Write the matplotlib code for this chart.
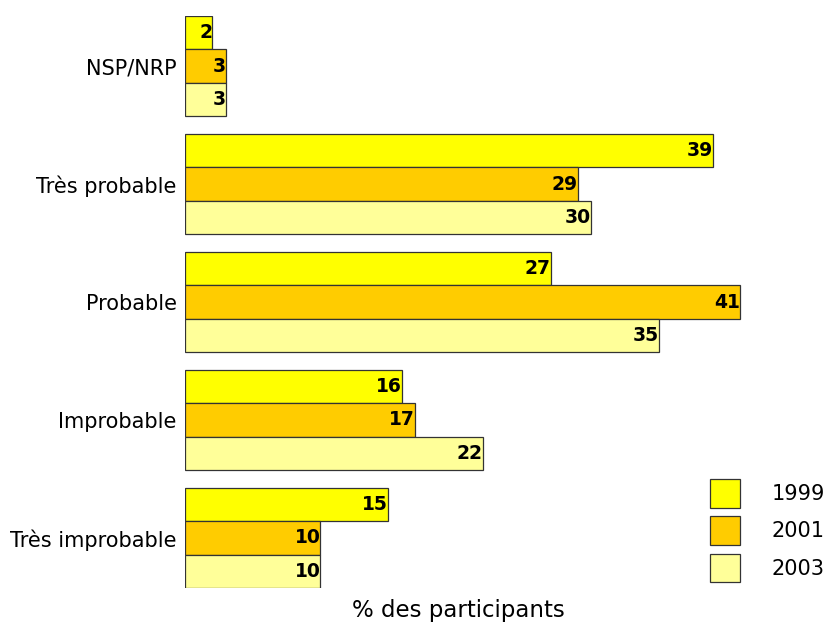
import matplotlib
matplotlib.use("Agg")
import matplotlib.pyplot as plt
import numpy as np
from matplotlib.patches import Patch

categories = ["NSP/NRP", "Très probable", "Probable", "Improbable", "Très improbable"]
years = ["1999", "2001", "2003"]
values_1999 = [2, 39, 27, 16, 15]
values_2001 = [3, 29, 41, 17, 10]
values_2003 = [3, 30, 35, 22, 10]
series = [values_1999, values_2001, values_2003]
colors = ["#FFFF00", "#FFCC00", "#FFFF99"]

plt.rcParams["font.family"] = ["DejaVu Sans"]

W, H = 828, 625
fig = plt.figure(figsize=(W / 100, H / 100), dpi=100)
ax = fig.add_axes([185 / W, 1 - 588 / H, 560 / W, (588 - 16) / H])

bar_h = 0.284
y = np.arange(len(categories))
for k, (vals, col) in enumerate(zip(series, colors)):
    pos = y + (k - 1) * bar_h
    bars = ax.barh(pos, vals, height=bar_h, color=col, edgecolor="#333333",
                   linewidth=0.9, label=years[k])
    for rect, v in zip(bars, vals):
        ax.text(rect.get_width(), rect.get_y() + rect.get_height() / 2,
                f"{v}", ha="right", va="center", fontsize=13.5,
                fontweight="bold", color="black")

ax.set_xlim(0, 560 / 13.54)
ax.set_ylim(len(categories) - 1 + 1.5 * bar_h, -1.5 * bar_h)
ax.set_yticks(y)
ax.set_yticklabels(categories, fontsize=15)
ax.set_xticks([])
ax.tick_params(axis="y", length=0, pad=6)
for s in ax.spines.values():
    s.set_visible(False)

fig.text(458 / W, 1 - 611 / H, "% des participants", ha="center", va="center",
         fontsize=16.5)

handles = [Patch(facecolor=c, edgecolor="#333333", linewidth=0.9) for c in colors]
fig.legend(handles, years, loc="upper left", bbox_to_anchor=(710 / W, 1 - 479 / H),
           frameon=False, fontsize=15, handlelength=1.44, handleheight=1.73,
           handletextpad=1.5, labelspacing=0.42, borderpad=0, borderaxespad=0)

fig.savefig("out.png", dpi=100)
